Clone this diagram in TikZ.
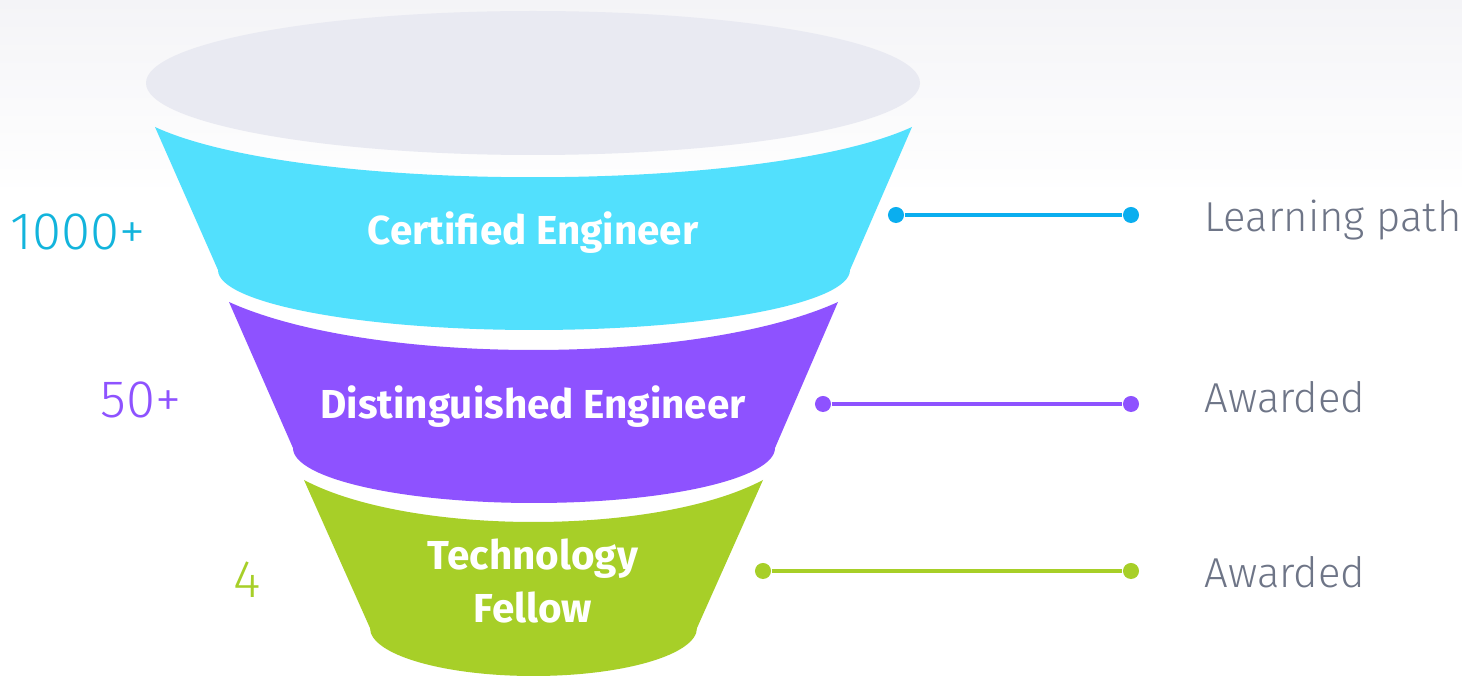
\documentclass[tikz,border=0pt]{standalone}
\usepackage{fontspec}
\setmainfont{Fira Sans}
\newfontfamily\thinfont{Fira Sans Light}
\usepackage{tikz}
\usetikzlibrary{positioning}
\definecolor{bgtop}{HTML}{F4F4F7}
\definecolor{rimgray}{HTML}{E9EAF2}
\definecolor{certcyan}{HTML}{52E0FD}
\definecolor{certline}{HTML}{0AAEEF}
\definecolor{certnum}{HTML}{12B4DC}
\definecolor{distpurple}{HTML}{8E52FF}
\definecolor{fellowgreen}{HTML}{A7CF28}
\definecolor{notegray}{HTML}{6E7587}

\begin{document}
\begin{tikzpicture}
				[x=0.01cm, y=-0.01cm,
				stagetext/.style={text=white, font=\bfseries\fontsize{11.5}{15}\selectfont, align=center},
				countlabel/.style={font=\thinfont\fontsize{15}{18}\selectfont},
				notelabel/.style={text=notegray, font=\thinfont\fontsize{11.9}{15}\selectfont, inner sep=0pt, anchor=base west},
				pin/.style={circle, minimum size=0.16cm, inner sep=0pt},
				pinline/.style={line width=0.9pt}]
				\useasboundingbox (0,0) rectangle (1462,676);
				\fill[white] (0,0) rectangle (1462,676);
				\shade[top color=bgtop, bottom color=white] (0,0) rectangle (1462,195);
				% rim of the funnel
				\fill[rimgray] (533,83) ellipse [x radius=387, y radius=72];
				% stages
				\fill[certcyan] (155,127) .. controls (300,194) and (766,194) .. (912,127)
					-- (850,270) arc [start angle=0, end angle=180, x radius=316, y radius=60] -- cycle;
				\fill[distpurple] (229,302) .. controls (370,366) and (697,366) .. (838,302)
					-- (775,448) arc [start angle=0, end angle=180, x radius=241, y radius=55] -- cycle;
				\fill[fellowgreen] (304,480) .. controls (410,536) and (657,536) .. (763,480)
					-- (697,628) arc [start angle=0, end angle=180, x radius=163.5, y radius=48] -- cycle;
				\node[stagetext] (cert) at (533,233) {Certified Engineer};
				\node[stagetext] (dist) at (533,407) {Distinguished Engineer};
				\node[stagetext] (fellow) at (533,581) {Technology\\Fellow};
				% counts
				\node[countlabel, text=certnum] (certcount) at (78,232) {1000+};
				\node[countlabel, text=distpurple] (distcount) at (141,400) {50+};
				\node[countlabel, text=fellowgreen] (fellowcount) at (247,580) {4};
				% pins and notes
				\node[pin, fill=certline] (certin) at (896,215) {};
				\node[pin, fill=certline] (certout) at (1131,215) {};
				\draw[pinline, certline] (certin) -- (certout);
				\node[notelabel] (certnote) at (1204,232) {Learning path};
				\node[pin, fill=distpurple] (distin) at (823,404) {};
				\node[pin, fill=distpurple] (distout) at (1131,404) {};
				\draw[pinline, distpurple] (distin) -- (distout);
				\node[notelabel] (distnote) at (1204,413) {Awarded};
				\node[pin, fill=fellowgreen] (fellowin) at (763,571) {};
				\node[pin, fill=fellowgreen] (fellowout) at (1131,571) {};
				\draw[pinline, fellowgreen] (fellowin) -- (fellowout);
				\node[notelabel] (fellownote) at (1204,588) {Awarded};
\end{tikzpicture}
\end{document}
